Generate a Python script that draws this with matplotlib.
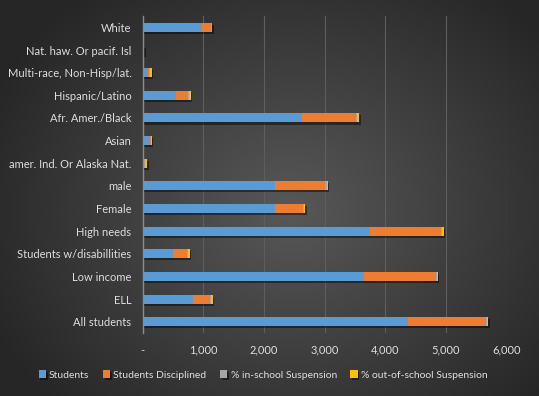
import numpy as np
import matplotlib
matplotlib.use("Agg")
import matplotlib.pyplot as plt
import matplotlib.patheffects as pe
from matplotlib.ticker import FuncFormatter, MultipleLocator

categories = ["All students", "ELL", "Low income", "Students w/disabillities",
              "High needs", "Female", "male", "amer. Ind. Or Alaska Nat.",
              "Asian", "Afr. Amer./Black", "Hispanic/Latino",
              "Multi-race, Non-Hisp/lat.", "Nat. haw. Or pacif. Isl", "White"]
students = [4370, 835, 3645, 510, 3740, 2190, 2190, 30, 130, 2625, 545, 90, 25, 980]
disciplined = [1285, 280, 1185, 230, 1175, 455, 820, 2, 3, 890, 200, 20, 0, 150]
in_school = [20, 15, 15, 10, 20, 10, 25, 5, 5, 20, 27, 8, 0, 8]
out_school = [15, 25, 15, 25, 25, 20, 15, 35, 15, 30, 22, 35, 0, 15]
series_names = ["Students", "Students Disciplined", "% in-school Suspension",
                "% out-of-school Suspension"]
colors = ["#5B9BD5", "#ED7D31", "#A5A5A5", "#FFC000"]

plt.rcParams['font.family'] = ['Lato', 'DejaVu Sans']
text_color = "#DDDDDD"

fig = plt.figure(figsize=(5.39, 3.96), dpi=100)
fig.patch.set_facecolor("#333333")

# radial gradient background
bg = fig.add_axes([0, 0, 1, 1], zorder=-10)
yy, xx = np.mgrid[0:396, 0:539]
r = np.sqrt(((xx - 290) / 330.0) ** 2 + ((yy - 210) / 280.0) ** 2)
r = np.clip(r, 0, 1)
c0 = np.array([0x58, 0x58, 0x58]) / 255.0
c1 = np.array([0x26, 0x26, 0x26]) / 255.0
img = c0[None, None, :] * (1 - r[..., None]) + c1[None, None, :] * r[..., None]
bg.imshow(img, aspect='auto', extent=[0, 1, 0, 1])
bg.axis('off')

ax = fig.add_axes([0.2644, 0.159, 0.6757, 0.8005])
ax.set_facecolor("none")

y = np.arange(len(categories))
data = [students, disciplined, in_school, out_school]
left = np.zeros(len(categories))
shadow = [pe.SimplePatchShadow(offset=(1.2, -1.5), shadow_rgbFace="black", alpha=0.45), pe.Normal()]
for vals, name, col in zip(data, series_names, colors):
    vals = np.array(vals, dtype=float)
    bars = ax.barh(y, vals, left=left, height=0.4, color=col, label=name,
                   edgecolor='none', zorder=3)
    for b in bars:
        b.set_path_effects(shadow)
    left += vals

ax.set_xlim(0, 6000)
ax.set_ylim(-0.5, len(categories) - 0.5)
ax.set_yticks(y)
ax.set_yticklabels(categories)
ax.xaxis.set_major_locator(MultipleLocator(1000))
ax.xaxis.set_major_formatter(FuncFormatter(lambda v, p: "-" if v == 0 else f"{int(v):,}"))
ax.tick_params(axis='both', colors=text_color, labelsize=8, length=0)
ax.tick_params(axis='y', pad=8)
ax.tick_params(axis='x', pad=8.5)
ax.grid(axis='x', color="#5E5E5E", linewidth=0.8, zorder=0)
for s in ["top", "right", "bottom"]:
    ax.spines[s].set_visible(False)
ax.spines["left"].set_color("#8C8C8C")
ax.spines["left"].set_linewidth(1.0)
ax.spines["left"].set_zorder(4)

leg = fig.legend(*ax.get_legend_handles_labels(), loc='center',
                 bbox_to_anchor=(0.488, 0.053), ncol=4, frameon=False,
                 fontsize=7.5, handlelength=0.7, handleheight=0.7,
                 handletextpad=0.3, columnspacing=1.3)
for t in leg.get_texts():
    t.set_color(text_color)

fig.savefig("out.png", dpi=100, facecolor=fig.get_facecolor())
